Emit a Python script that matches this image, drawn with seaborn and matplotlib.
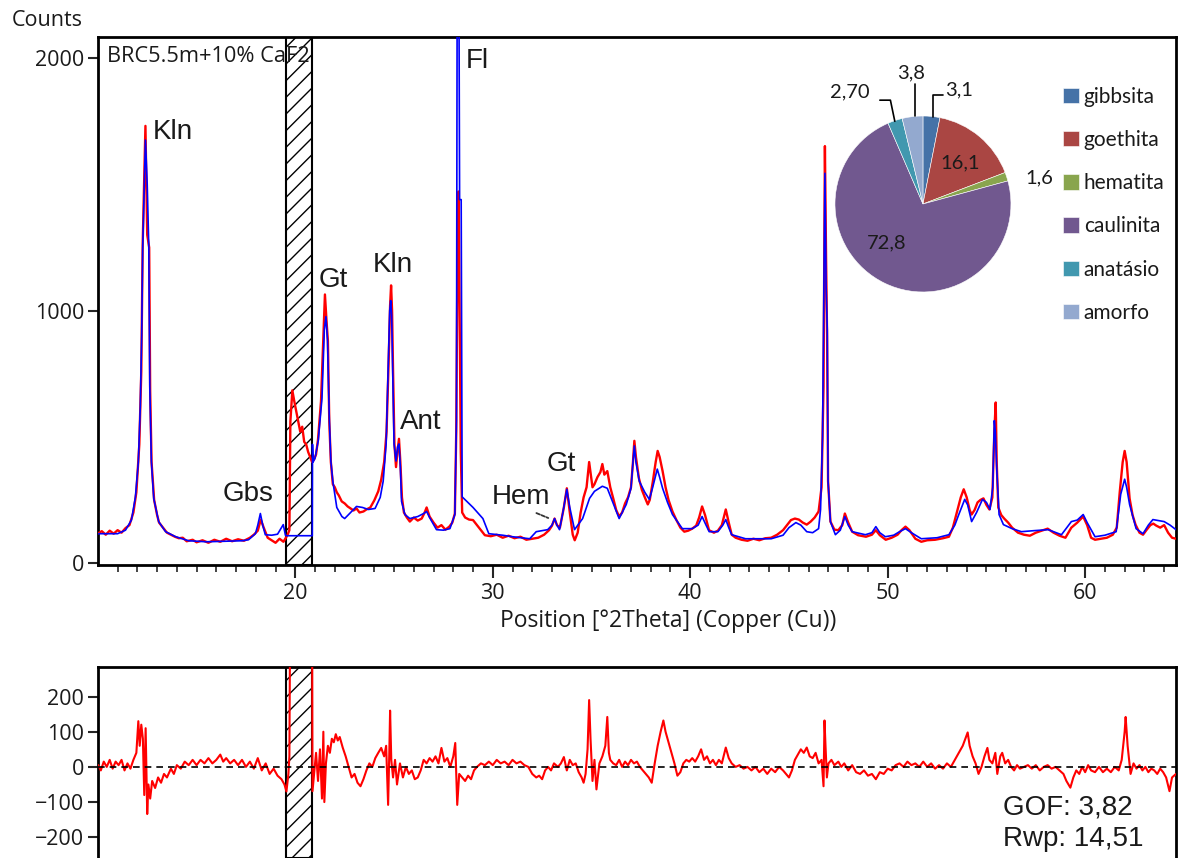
import matplotlib
matplotlib.use("Agg")
import matplotlib.pyplot as plt
import seaborn as sns
import pandas as pd

observed_pattern = [
    (10.02, 118), (10.2, 126), (10.4, 112), (10.6, 128), (10.8, 116), (11.0, 130), (11.2, 120),
    (11.4, 138), (11.6, 150), (11.8, 200), (11.95, 280), (12.1, 470), (12.2, 760), (12.27, 1260),
    (12.41, 1732), (12.5, 1300), (12.6, 1250), (12.65, 680), (12.72, 400), (12.85, 250),
    (13.0, 190), (13.1, 160), (13.3, 140), (13.5, 120), (13.7, 112), (13.9, 104), (14.1, 98),
    (14.3, 100), (14.5, 86), (14.8, 92), (15.0, 82), (15.3, 90), (15.6, 80), (15.9, 92),
    (16.2, 84), (16.5, 96), (16.8, 86), (17.1, 94), (17.4, 88), (17.7, 100), (17.9, 112),
    (18.1, 128), (18.25, 172), (18.4, 140), (18.6, 100), (18.8, 90), (19.0, 80), (19.2, 96),
    (19.4, 84), (19.6, 110), (19.7, 130), (19.75, 560), (19.85, 684), (19.95, 640), (20.05, 600),
    (20.15, 560), (20.25, 520), (20.35, 540), (20.45, 480), (20.55, 470), (20.65, 440),
    (20.75, 420), (20.85, 400), (20.95, 410), (21.05, 430), (21.15, 490), (21.3, 640),
    (21.42, 900), (21.5, 1064), (21.58, 960), (21.65, 880), (21.72, 560), (21.8, 400),
    (21.9, 312), (22.0, 300), (22.1, 280), (22.2, 268), (22.35, 244), (22.5, 236), (22.65, 224),
    (22.8, 216), (22.95, 208), (23.1, 216), (23.25, 200), (23.45, 204), (23.6, 212), (23.8, 220),
    (24.0, 248), (24.2, 284), (24.35, 330), (24.5, 400), (24.62, 520), (24.72, 780),
    (24.8, 1020), (24.85, 1100), (24.9, 1000), (24.95, 760), (25.02, 470), (25.1, 380),
    (25.17, 440), (25.25, 492), (25.32, 400), (25.4, 260), (25.5, 200), (25.65, 180),
    (25.8, 164), (26.0, 180), (26.2, 168), (26.4, 176), (26.55, 200), (26.65, 220), (26.8, 184),
    (27.0, 160), (27.2, 140), (27.4, 150), (27.6, 132), (27.8, 144), (27.95, 160), (28.08, 196),
    (28.15, 520), (28.22, 1300), (28.27, 1472), (28.32, 1000), (28.38, 440), (28.45, 200),
    (28.6, 180), (28.8, 172), (29.0, 170), (29.3, 140), (29.6, 110), (29.9, 106), (30.2, 112),
    (30.5, 100), (30.8, 108), (31.1, 98), (31.4, 104), (31.7, 92), (32.0, 96), (32.3, 100),
    (32.6, 112), (32.85, 130), (33.0, 148), (33.13, 176), (33.25, 150), (33.4, 140),
    (33.6, 220), (33.75, 296), (33.9, 200), (34.05, 112), (34.15, 90), (34.3, 120),
    (34.45, 200), (34.6, 260), (34.75, 300), (34.88, 400), (34.95, 360), (35.05, 300),
    (35.15, 312), (35.3, 340), (35.45, 360), (35.55, 392), (35.65, 350), (35.8, 364),
    (35.95, 300), (36.1, 256), (36.25, 210), (36.4, 184), (36.55, 200), (36.7, 236),
    (36.85, 260), (37.0, 300), (37.1, 400), (37.17, 484), (37.25, 420), (37.4, 336),
    (37.55, 290), (37.7, 260), (37.85, 232), (37.95, 250), (38.1, 320), (38.25, 400),
    (38.35, 444), (38.45, 420), (38.6, 364), (38.75, 300), (38.9, 250), (39.1, 204),
    (39.3, 170), (39.5, 140), (39.7, 124), (39.9, 128), (40.1, 136), (40.3, 148), (40.45, 180),
    (40.6, 224), (40.75, 190), (40.95, 130), (41.2, 120), (41.4, 128), (41.6, 150), (41.8, 212),
    (41.95, 160), (42.1, 112), (42.3, 100), (42.6, 92), (42.9, 88), (43.2, 96), (43.5, 90),
    (43.8, 98), (44.1, 100), (44.4, 112), (44.7, 130), (44.9, 150), (45.1, 170), (45.3, 176),
    (45.5, 172), (45.7, 160), (45.9, 152), (46.1, 164), (46.3, 180), (46.5, 204), (46.65, 300),
    (46.75, 700), (46.82, 1652), (46.88, 1200), (46.93, 900), (46.98, 324), (47.1, 164),
    (47.3, 132), (47.5, 130), (47.7, 150), (47.83, 196), (48.0, 160), (48.2, 124), (48.5, 110),
    (48.9, 104), (49.2, 112), (49.4, 130), (49.6, 110), (49.9, 92), (50.2, 100), (50.5, 112),
    (50.7, 130), (50.9, 144), (51.1, 130), (51.4, 96), (51.7, 84), (52.0, 90), (52.4, 92),
    (52.8, 98), (53.1, 104), (53.3, 140), (53.5, 200), (53.7, 260), (53.85, 292), (54.0, 260),
    (54.15, 210), (54.25, 192), (54.4, 210), (54.55, 240), (54.7, 250), (54.85, 256),
    (55.0, 230), (55.15, 212), (55.3, 260), (55.4, 520), (55.47, 636), (55.52, 400),
    (55.6, 220), (55.75, 190), (55.9, 176), (56.1, 160), (56.3, 140), (56.6, 120), (56.9, 112),
    (57.2, 108), (57.5, 120), (57.8, 128), (58.1, 136), (58.4, 120), (58.7, 108), (59.0, 100),
    (59.3, 140), (59.6, 160), (59.9, 184), (60.1, 150), (60.3, 100), (60.5, 92), (60.8, 96),
    (61.1, 100), (61.4, 112), (61.6, 140), (61.75, 280), (61.9, 400), (62.0, 444), (62.1, 400),
    (62.25, 256), (62.4, 190), (62.55, 152), (62.75, 120), (62.93, 112), (63.1, 130),
    (63.3, 150), (63.45, 156), (63.6, 148), (63.8, 140), (64.0, 150), (64.2, 120), (64.4, 100),
    (64.6, 96),
]

# calculated profile (blue)
calculated_pattern = [
    (10.02, 116), (11.0, 116), (11.4, 130), (11.7, 170), (11.9, 260), (12.05, 400), (12.15, 620),
    (12.22, 900), (12.27, 1244), (12.35, 1500), (12.41, 1676), (12.5, 1500), (12.58, 1252),
    (12.63, 700), (12.71, 404), (12.83, 256), (13.08, 164), (13.43, 124), (13.94, 104),
    (14.6, 88), (15.5, 84), (16.5, 86), (17.3, 88), (17.63, 92), (17.98, 116), (18.1, 150),
    (18.23, 196), (18.35, 150), (18.48, 112), (18.8, 110), (19.1, 114), (19.39, 152),
    (19.5, 110), (19.55, 108), (20.86, 108), (20.87, 470), (20.9, 400), (21.0, 416),
    (21.16, 484), (21.35, 652), (21.47, 924), (21.55, 976), (21.63, 884), (21.72, 576),
    (21.8, 404), (21.9, 324), (22.1, 220), (22.36, 184), (22.5, 176), (22.8, 200), (23.1, 224),
    (23.4, 220), (23.7, 212), (24.04, 216), (24.3, 260), (24.45, 324), (24.6, 472), (24.7, 764),
    (24.78, 1000), (24.83, 1040), (24.88, 980), (24.93, 764), (25.0, 472), (25.1, 404),
    (25.18, 460), (25.25, 472), (25.32, 380), (25.38, 244), (25.55, 192), (25.8, 176),
    (26.2, 184), (26.5, 196), (26.65, 204), (26.8, 180), (27.15, 132), (27.5, 130), (27.83, 136),
    (28.08, 192), (28.16, 564), (28.2, 2400), (28.28, 2400), (28.32, 1440), (28.4, 1440),
    (28.45, 262), (29.0, 220), (29.5, 176), (29.8, 116), (30.5, 110), (31.0, 104), (31.87, 96),
    (32.2, 124), (32.78, 132), (33.0, 150), (33.13, 176), (33.25, 150), (33.38, 132),
    (33.55, 200), (33.75, 292), (33.9, 220), (34.14, 132), (34.55, 176), (34.9, 256),
    (35.15, 284), (35.55, 304), (35.8, 296), (36.06, 244), (36.4, 176), (36.76, 232),
    (37.0, 296), (37.1, 400), (37.17, 464), (37.25, 400), (37.42, 324), (37.7, 280),
    (37.93, 252), (38.1, 300), (38.33, 372), (38.45, 340), (38.6, 296), (38.85, 240),
    (39.1, 192), (39.6, 136), (40.1, 136), (40.4, 150), (40.6, 184), (40.8, 150), (40.96, 124),
    (41.4, 124), (41.65, 150), (41.8, 172), (41.95, 140), (42.1, 112), (42.8, 96), (44.1, 96),
    (44.7, 110), (45.0, 140), (45.35, 160), (45.6, 150), (45.9, 124), (46.2, 120), (46.5, 136),
    (46.6, 212), (46.7, 500), (46.78, 1200), (46.82, 1544), (46.88, 1100), (46.94, 924),
    (46.98, 324), (47.1, 164), (47.35, 112), (47.6, 130), (47.83, 184), (48.0, 150),
    (48.2, 124), (48.87, 112), (49.2, 120), (49.4, 144), (49.6, 120), (49.88, 104), (50.3, 110),
    (50.6, 124), (50.9, 136), (51.2, 120), (51.7, 96), (52.5, 100), (53.1, 112), (53.4, 150),
    (53.6, 192), (53.9, 252), (54.05, 230), (54.25, 164), (54.5, 200), (54.8, 252), (55.0, 240),
    (55.18, 212), (55.32, 300), (55.4, 564), (55.45, 520), (55.52, 376), (55.64, 192),
    (55.86, 152), (56.3, 136), (56.77, 124), (57.4, 128), (58.13, 132), (58.8, 112),
    (59.3, 164), (59.6, 170), (59.9, 192), (60.1, 160), (60.5, 104), (61.0, 110), (61.57, 124),
    (61.8, 272), (62.0, 332), (62.1, 300), (62.25, 232), (62.58, 136), (62.93, 116),
    (63.2, 150), (63.43, 172), (63.7, 168), (64.0, 164), (64.3, 150), (64.6, 132),
]

# observed - calculated (lower panel)
difference_pattern = [
    (10.02, 5), (10.15, -10), (10.3, 15), (10.45, 0), (10.6, 20), (10.75, -5), (10.9, 15),
    (11.05, 5), (11.2, 20), (11.35, -10), (11.5, 10), (11.65, -5), (11.8, 20), (11.95, 40),
    (12.05, 130), (12.12, 60), (12.2, 120), (12.28, 80), (12.35, -80), (12.42, 110),
    (12.5, -134), (12.56, -50), (12.65, -90), (12.75, -40), (12.9, -60), (13.05, -30),
    (13.2, -45), (13.35, -20), (13.5, -30), (13.7, -5), (13.85, -20), (14.0, 5), (14.2, -5),
    (14.4, 15), (14.6, 5), (14.8, 20), (15.0, 5), (15.2, 20), (15.4, 10), (15.6, 25), (15.8, 10),
    (16.0, 20), (16.2, 35), (16.35, 15), (16.5, 25), (16.7, 10), (16.9, 20), (17.1, 5),
    (17.3, 20), (17.5, 0), (17.7, 15), (17.9, -5), (18.1, 25), (18.3, -10), (18.5, 10),
    (18.7, -20), (18.9, -5), (19.1, -25), (19.3, -35), (19.45, -50), (19.55, -70), (19.65, -20),
    (19.7, 30), (19.75, 560), (20.2, 520), (20.6, 480), (20.85, 420), (20.87, -69), (20.95, -20),
    (21.05, 40), (21.15, -40), (21.25, 50), (21.35, -90), (21.42, 100), (21.47, -100),
    (21.55, 10), (21.65, 60), (21.75, 40), (21.85, 80), (21.95, 70), (22.05, 93), (22.15, 75),
    (22.25, 85), (22.4, 55), (22.55, 30), (22.7, 0), (22.85, -30), (23.0, -20), (23.15, -45),
    (23.3, -55), (23.45, -35), (23.6, -10), (23.75, 10), (23.9, 0), (24.05, 25), (24.2, 40),
    (24.35, 54), (24.5, 30), (24.6, 60), (24.7, -108), (24.76, 40), (24.8, 160), (24.86, 20),
    (24.95, -30), (25.05, 20), (25.15, -50), (25.3, 10), (25.45, -30), (25.6, 0), (25.75, -20),
    (25.9, -10), (26.05, -35), (26.2, -30), (26.35, -10), (26.5, 20), (26.65, 10), (26.8, 25),
    (26.95, 15), (27.1, 30), (27.25, 10), (27.4, 54), (27.55, 15), (27.7, 25), (27.85, 0),
    (28.0, 30), (28.1, 68), (28.2, -108), (28.3, -20), (28.45, -30), (28.6, -40), (28.75, -25),
    (28.9, -35), (29.05, -10), (29.2, 0), (29.4, 10), (29.6, 5), (29.8, 15), (30.0, 5),
    (30.2, 20), (30.4, 10), (30.6, 15), (30.8, 5), (31.0, 20), (31.2, 10), (31.4, 15),
    (31.6, 5), (31.8, 0), (32.0, -20), (32.2, -30), (32.35, -25), (32.5, -35), (32.65, -10),
    (32.8, 0), (32.95, -10), (33.1, 10), (33.3, 0), (33.45, 10), (33.6, 28), (33.75, -10),
    (33.9, 20), (34.05, 5), (34.2, 10), (34.35, -15), (34.5, -30), (34.6, -45), (34.7, -20),
    (34.8, 50), (34.88, 190), (34.95, 80), (35.05, -40), (35.15, 20), (35.25, -64), (35.4, 10),
    (35.55, 30), (35.7, 60), (35.8, 142), (35.88, 40), (35.95, 20), (36.1, 10), (36.25, 5),
    (36.4, 20), (36.55, 0), (36.7, 15), (36.85, 5), (37.0, 20), (37.15, 10), (37.3, 15),
    (37.45, 0), (37.6, -10), (37.75, -20), (37.9, -30), (38.05, -45), (38.2, 10), (38.35, 60),
    (38.5, 100), (38.64, 132), (38.75, 100), (38.9, 70), (39.05, 40), (39.2, 10), (39.35, -25),
    (39.5, -15), (39.65, 10), (39.8, 20), (39.95, 15), (40.1, 25), (40.25, 15), (40.4, 30),
    (40.55, 50), (40.7, 20), (40.85, 30), (41.0, 10), (41.15, 20), (41.3, 5), (41.45, 20),
    (41.6, 10), (41.8, 55), (41.95, 25), (42.1, 10), (42.3, 0), (42.5, 5), (42.7, -5), (42.9, 0),
    (43.1, -10), (43.3, 0), (43.5, -15), (43.7, -5), (43.9, -20), (44.1, -5), (44.3, -15),
    (44.5, 0), (44.7, -10), (44.85, -20), (45.0, -30), (45.15, -10), (45.3, 20), (45.45, 35),
    (45.6, 50), (45.75, 40), (45.9, 55), (46.05, 30), (46.2, 25), (46.35, 40), (46.5, 10),
    (46.65, 20), (46.75, -55), (46.8, 132), (46.85, 60), (46.92, -30), (47.0, 10), (47.15, 20),
    (47.3, 5), (47.5, 15), (47.65, 0), (47.8, 10), (48.0, -10), (48.2, 5), (48.4, -15),
    (48.6, -20), (48.8, -10), (49.0, -25), (49.2, -20), (49.4, -35), (49.6, -15), (49.8, -20),
    (50.0, -5), (50.2, -10), (50.4, 5), (50.6, 10), (50.8, 0), (51.0, 15), (51.2, 5), (51.4, 10),
    (51.6, 0), (51.8, 15), (52.0, 0), (52.2, 10), (52.4, -5), (52.6, 5), (52.8, -5), (53.0, 10),
    (53.2, 0), (53.4, 20), (53.6, 40), (53.8, 60), (54.05, 98), (54.15, 60), (54.3, 30),
    (54.45, 10), (54.6, -20), (54.75, 0), (54.9, 30), (55.05, 54), (55.15, 20), (55.3, 10),
    (55.45, 40), (55.55, -20), (55.7, 30), (55.8, 40), (55.95, 10), (56.1, 20), (56.25, 0),
    (56.4, -10), (56.55, 5), (56.7, -5), (56.9, 0), (57.1, 5), (57.3, -5), (57.5, 5),
    (57.7, -10), (57.9, 0), (58.1, 5), (58.3, -5), (58.5, 0), (58.7, -10), (58.9, -20),
    (59.05, -40), (59.25, -59), (59.4, -30), (59.55, -10), (59.7, -20), (59.85, 0), (60.0, -15),
    (60.15, 5), (60.3, -10), (60.5, -15), (60.7, 0), (60.9, -15), (61.1, -5), (61.3, -15),
    (61.5, 0), (61.7, -10), (61.85, 20), (62.0, 100), (62.05, 142), (62.15, 60), (62.3, -20),
    (62.45, 10), (62.6, -5), (62.75, 5), (62.9, -10), (63.05, 0), (63.2, -15), (63.35, -5),
    (63.5, -10), (63.65, -20), (63.8, -5), (63.95, -15), (64.1, -30), (64.27, -69), (64.4, -30),
    (64.6, -20),
]

# phase quantification (pie)
phase_names = ["gibbsita", "goethita", "hematita", "caulinita", "anatásio", "amorfo"]
phase_percent = [3.1, 16.1, 1.6, 72.8, 2.7, 3.8]
phase_labels = ["3,1", "16,1", "1,6", "72,8", "2,70", "3,8"]
phase_colors = ["#4572A7", "#AA4643", "#89A54E", "#71588F", "#4198AF", "#93A9CF"]

# peak identification
peak_names = ["Kln", "Gbs", "Gt", "Kln", "Ant", "Fl", "Hem", "Gt"]
peak_text_x = [13.81, 17.61, 21.93, 24.92, 26.35, 29.24, 31.42, 33.45]
peak_text_y = [1708, 273, 1121, 1181, 559, 1989, 262, 392]

excluded_start, excluded_end = 19.55, 20.86
sample_name = "BRC5.5m+10% CaF2"
gof_value = "3,82"
rwp_value = "14,51"

sns.set_style("white")
plt.rcParams["font.family"] = ["Open Sans", "DejaVu Sans"]
plt.rcParams["hatch.linewidth"] = 1.0
text_color = "#1a1a1a"

obs_df = pd.DataFrame(observed_pattern, columns=["two_theta", "counts"])
calc_df = pd.DataFrame(calculated_pattern, columns=["two_theta", "counts"])
diff_df = pd.DataFrame(difference_pattern, columns=["two_theta", "diff"])

fig = plt.figure(figsize=(11.78, 8.58), dpi=100)
ax = fig.add_axes([0.0834, 0.3415, 0.9149, 0.615])
ax_diff = fig.add_axes([0.0834, 0.0, 0.9149, 0.2226])

for a in (ax, ax_diff):
    a.axvspan(excluded_start, excluded_end, facecolor="white", edgecolor="black",
              hatch="//", linewidth=1.5, zorder=1.5)
    for s in a.spines.values():
        s.set_linewidth(2)
        s.set_color("black")
    a.set_xlim(10.02, 64.6)

# main pattern
sns.lineplot(data=obs_df, x="two_theta", y="counts", ax=ax, color="#FF0000",
             linewidth=1.7, estimator=None, sort=False, zorder=3)
sns.lineplot(data=calc_df, x="two_theta", y="counts", ax=ax, color="#0000FF",
             linewidth=1.2, estimator=None, sort=False, zorder=4)
ax.set_ylim(-8, 2083)
ax.set_xticks([20, 30, 40, 50, 60])
ax.set_xticks(range(11, 65), minor=True)
ax.set_yticks([0, 1000, 2000])
ax.tick_params(axis="x", which="major", direction="out", length=9, width=1.5,
               labelsize=15.5, labelcolor=text_color, bottom=True, pad=4)
ax.tick_params(axis="x", which="minor", direction="out", length=5, width=1.2, bottom=True)
ax.tick_params(axis="y", direction="out", length=7, width=1.5, labelsize=15.5,
               labelcolor=text_color, left=True, pad=3)
ax.set_xlabel("Position [°2Theta] (Copper (Cu))", fontsize=16.5, color=text_color,
              va="center")
ax.xaxis.set_label_coords(0.529, -0.106)
ax.set_ylabel("")
fig.text(12 / 1178, 1 - 20 / 858, "Counts", fontsize=15.5, color=text_color, va="center")
fig.text(107 / 1178, 1 - 56 / 858, sample_name, fontsize=15.7, color=text_color, va="center")

for name, px, py in zip(peak_names, peak_text_x, peak_text_y):
    ax.text(px, py, name, fontsize=20, family=["Liberation Sans", "DejaVu Sans"],
            color=text_color, ha="center", va="center", zorder=6)
ax.annotate("", xy=(32.94, 174), xytext=(32.08, 202),
            arrowprops=dict(arrowstyle="-", color="#333333", lw=1.3, linestyle=(0, (2, 1))))

# difference panel
sns.lineplot(data=diff_df, x="two_theta", y="diff", ax=ax_diff, color="#FF0000",
             linewidth=1.5, estimator=None, sort=False, zorder=3)
ax_diff.axhline(0, color="black", linestyle=(0, (4, 3)), linewidth=1.2, zorder=4)
ax_diff.set_ylim(-259, 284)
ax_diff.set_yticks([-200, -100, 0, 100, 200])
ax_diff.set_xticks([])
ax_diff.spines["bottom"].set_visible(False)
ax_diff.tick_params(axis="y", direction="out", length=7, width=1.5, labelsize=15.5,
                    labelcolor=text_color, left=True, pad=3)
ax_diff.set_xlabel("")
ax_diff.set_ylabel("")
fig.text(1003 / 1178, 1 - 807 / 858, f"GOF: {gof_value}", fontsize=20,
         family=["Liberation Sans", "DejaVu Sans"], color=text_color, va="center")
fig.text(1003 / 1178, 1 - 839 / 858, f"Rwp: {rwp_value}", fontsize=20,
         family=["Liberation Sans", "DejaVu Sans"], color=text_color, va="center")

# phase pie inset
ax_pie = fig.add_axes([0.7088, 0.6597, 0.1494, 0.2051])
wedges, _ = ax_pie.pie(phase_percent, colors=phase_colors, startangle=90,
                       counterclock=False, radius=1,
                       wedgeprops=dict(edgecolor="white", linewidth=0.4))
ax_pie.set_xlim(-1, 1)
ax_pie.set_ylim(-1, 1)
ax_pie.set_aspect("equal")
ax_pie.axis("off")
pie_font = dict(fontsize=14.5, family=["Lato", "DejaVu Sans"], color=text_color)
label_pos = [(0.25, 1.30, "left"), (0.42, 0.47, "center"), (1.16, 0.30, "left"),
             (-0.41, -0.44, "center"), (-0.83, 1.27, "center"), (-0.14, 1.49, "center")]
for lbl, (lx, ly, ha) in zip(phase_labels, label_pos):
    ax_pie.text(lx, ly, lbl, ha=ha, va="center", clip_on=False, **pie_font)
ax_pie.plot([0.11, 0.11, 0.23], [0.99, 1.24, 1.24], color="black", lw=1.2, clip_on=False)
ax_pie.plot([-0.09, -0.09], [1.0, 1.36], color="black", lw=1.2, clip_on=False)
ax_pie.plot([-0.32, -0.37, -0.49], [0.94, 1.18, 1.18], color="black", lw=1.2, clip_on=False)

fig.legend(wedges, phase_names, loc="upper left", bbox_to_anchor=(1063 / 1178, 1 - 87 / 858),
           frameon=False, borderpad=0, borderaxespad=0, handlelength=0.75, handleheight=0.75,
           handletextpad=0.25, labelspacing=1.11,
           prop=dict(size=15, family=["Lato", "DejaVu Sans"]), labelcolor=text_color)

fig.savefig("out.png", dpi=100)
